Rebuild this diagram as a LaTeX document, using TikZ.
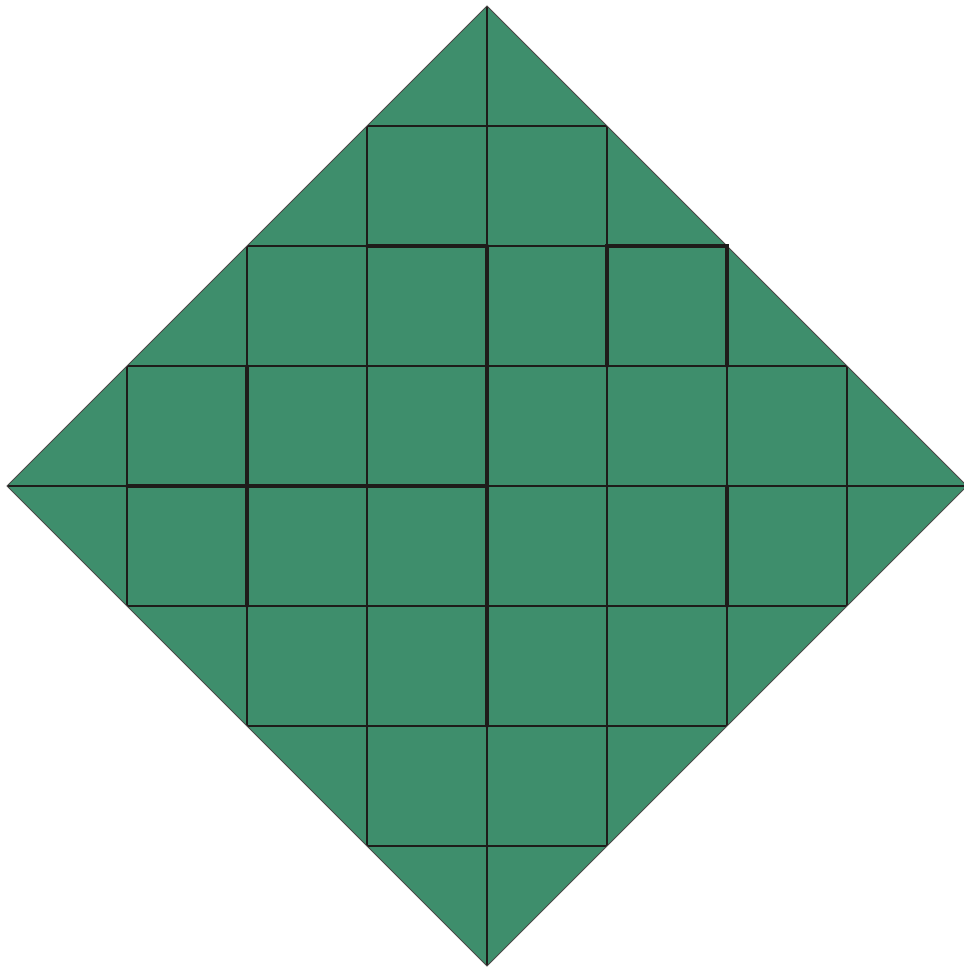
\documentclass[tikz,border=0pt]{standalone}
\definecolor{gf}{RGB}{62,142,108}
\definecolor{ln}{RGB}{30,28,26}
\tikzset{
  thinline/.style={draw=ln, line width=0.7pt},
  boldline/.style={draw=ln, line width=1.7pt, line cap=round},
  edgeline/.style={draw=ln!80, line width=0.5pt}
}
\begin{document}
\begin{tikzpicture}[x=0.5pt,y=-0.5pt]
\useasboundingbox (0,0) rectangle (963,967);
\coordinate (T) at (487,6);
\coordinate (R) at (967,486);
\coordinate (B) at (487,966);
\coordinate (L) at (7,486);
\fill[gf] (T) -- (R) -- (B) -- (L) -- cycle;
\begin{scope}
  \clip (T) -- (R) -- (B) -- (L) -- cycle;
  \foreach \v in {127,247,367,487,607,727,847} {
    \draw[thinline] (\v,0) -- (\v,967);
  }
  \foreach \v in {126,246,366,486,606,726,846} {
    \draw[thinline] (0,\v) -- (967,\v);
  }
\end{scope}
\draw[edgeline] (T) -- (R) -- (B) -- (L) -- cycle;
% bold outline segments
\draw[boldline] (367,246) -- (487,246);
\draw[boldline] (607,366) -- (607,246) -- (727,246) -- (727,366);
\draw[boldline] (487,246) -- (487,726);
\draw[boldline] (247,366) -- (247,606);
\draw[boldline] (127,486) -- (487,486);
\draw[boldline] (727,486) -- (727,606);
\end{tikzpicture}
\end{document}
